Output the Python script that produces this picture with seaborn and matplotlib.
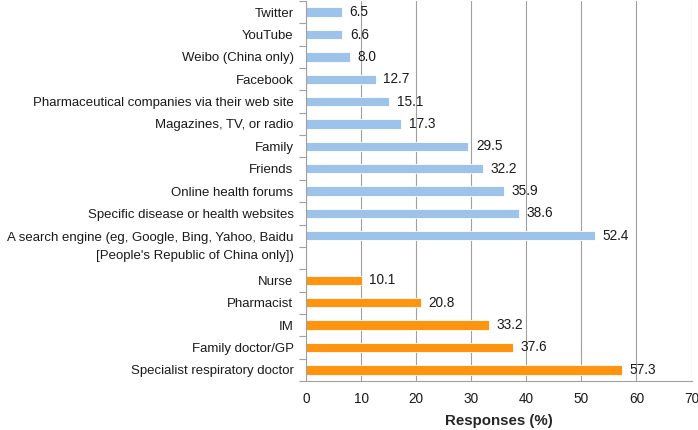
import matplotlib
matplotlib.use("Agg")
import matplotlib.pyplot as plt
from matplotlib.transforms import ScaledTranslation
import seaborn as sns
import pandas as pd
import numpy as np

categories = [
    "Twitter", "YouTube", "Weibo (China only)", "Facebook",
    "Pharmaceutical companies via their web site", "Magazines, TV, or radio",
    "Family", "Friends", "Online health forums",
    "Specific disease or health websites",
    "A search engine (eg, Google, Bing, Yahoo, Baidu\n[People's Republic of China only])",
    " ",
    "Nurse", "Pharmacist", "IM", "Family doctor/GP", "Specialist respiratory doctor",
]
values = [6.5, 6.6, 8.0, 12.7, 15.1, 17.3, 29.5, 32.2, 35.9, 38.6, 52.4,
          np.nan, 10.1, 20.8, 33.2, 37.6, 57.3]
groups = ["online"] * 11 + ["online"] + ["hcp"] * 5
xticks = [0, 10, 20, 30, 40, 50, 60, 70]

df = pd.DataFrame({"category": categories, "value": values, "group": groups})

sns.set_theme(style="white")
plt.rcParams["font.family"] = ["Liberation Sans", "DejaVu Sans"]

fig = plt.figure(figsize=(6.98, 4.30), dpi=100)
ax = fig.add_axes([306 / 698, 1 - 381 / 430, (691.5 - 306) / 698, 380 / 430])

palette = {"online": "#9DC3EA", "hcp": "#FF9410"}
sns.barplot(data=df, x="value", y="category", hue="group", order=categories,
            palette=palette, saturation=1, dodge=False, width=0.42, orient="h",
            edgecolor="white", linewidth=0.6, legend=False, ax=ax)

FS = 9.55
ax.set_xlim(0, 70)
ax.set_ylim(len(categories) - 0.5, -0.5)
ax.set_xticks(xticks)
ax.set_xticklabels([str(t) for t in xticks], fontsize=FS + 0.3, color="#1a1a1a")
ax.tick_params(axis="x", length=0, pad=8)
ax.grid(axis="x", color="#A0A0A0", linewidth=0.8)
ax.set_axisbelow(True)

ax.set_yticks(range(len(categories)))
ax.set_yticklabels(categories, fontsize=FS, color="#1a1a1a")
ax.tick_params(axis="y", which="major", length=0, pad=9)
ax.set_yticks(np.arange(-0.5, len(categories), 1.0), minor=True)
ax.tick_params(axis="y", which="minor", length=5, color="#A0A0A0", width=0.8,
               direction="out", left=True)

for lab in ax.get_yticklabels():
    if "\n" in lab.get_text():
        lab.set_linespacing(1.6)
        lab.set_transform(lab.get_transform() +
                          ScaledTranslation(0, -0.07, fig.dpi_scale_trans))

ax.set_xlabel("Responses (%)", fontsize=10.8, fontweight="bold", labelpad=6)
ax.set_ylabel("")

for s in ["top", "right"]:
    ax.spines[s].set_visible(False)
for s in ["left", "bottom"]:
    ax.spines[s].set_color("#A0A0A0")
    ax.spines[s].set_linewidth(0.8)

for i, v in enumerate(values):
    if not np.isnan(v):
        ax.text(v + 1.35, i, f"{v:.1f}", va="center", ha="left",
                fontsize=FS + 0.3, color="#1a1a1a")

fig.savefig("out.png", dpi=100)
